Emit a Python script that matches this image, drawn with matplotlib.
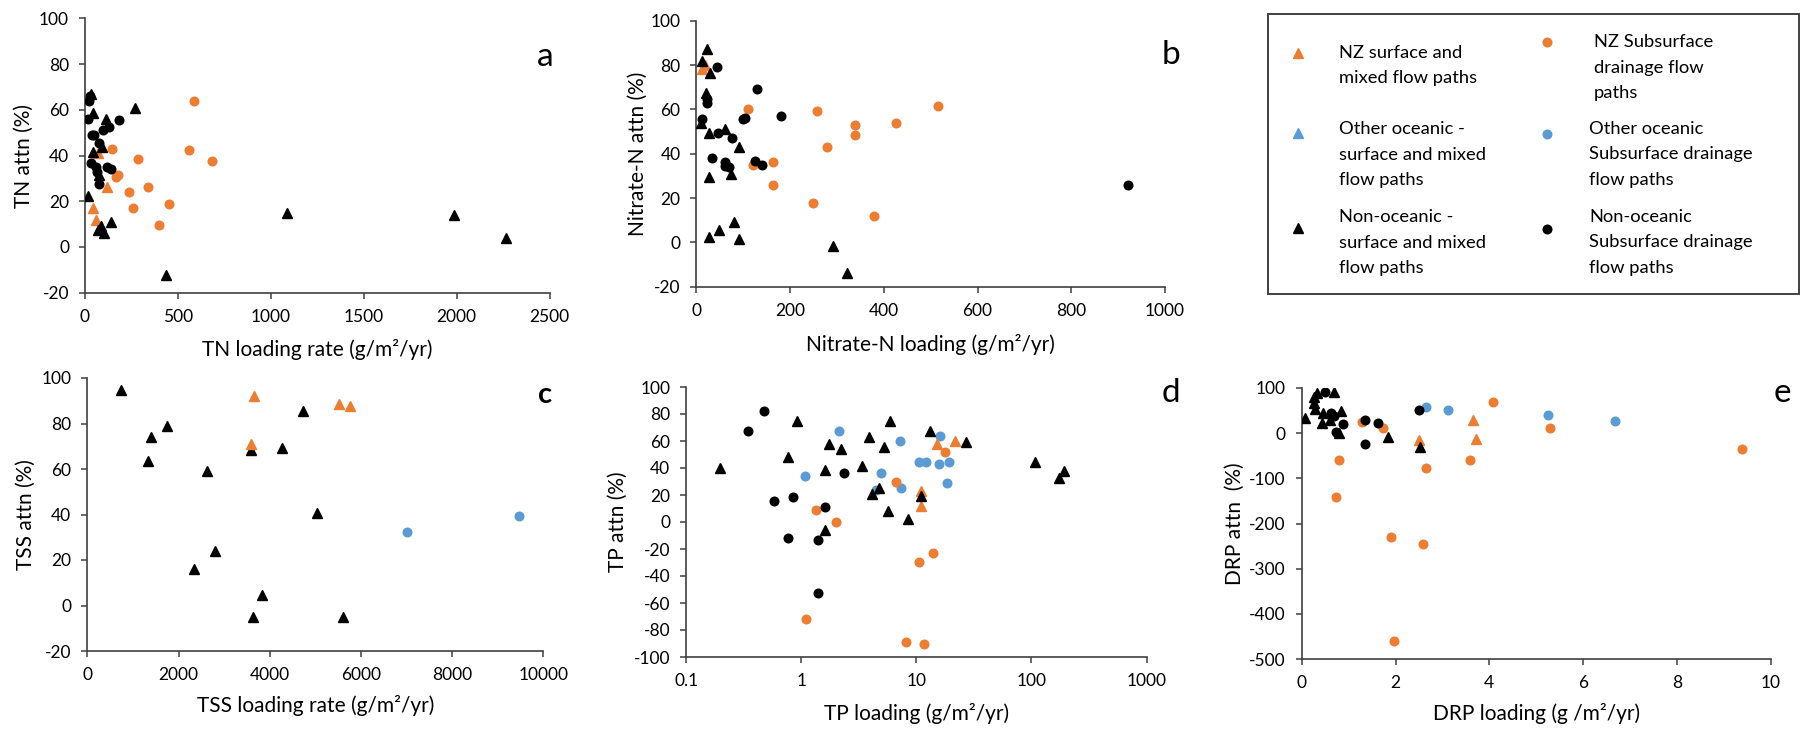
import matplotlib
matplotlib.use("Agg")
import matplotlib.pyplot as plt
from matplotlib.patches import Rectangle

plt.rcParams['font.family'] = ['Lato', 'DejaVu Sans']
plt.rcParams['axes.unicode_minus'] = False

ORANGE = '#ED7D31'
BLUE = '#5B9BD5'
BLACK = '#000000'

# ---------------- Panel a: TN ----------------
a_nz_surf_x = [72, 120, 41, 59]
a_nz_surf_y = [41, 26.1, 16.9, 11.8]
a_nz_sub_x = [147, 287, 168, 175, 235, 341, 260, 454, 398, 585, 560, 682]
a_nz_sub_y = [42.7, 38.3, 30.7, 31.5, 23.9, 26.1, 16.9, 18.9, 9.7, 63.8, 42.4, 37.6]
a_non_surf_x = [31, 41, 113, 269, 93, 41, 18, 138, 86, 72, 102, 1085, 1987, 2267, 435, 77]
a_non_surf_y = [66.8, 58.5, 55.8, 60.9, 43.9, 41.7, 22.4, 11.1, 9.3, 7.4, 6.2, 14.7, 14.0, 4.1, -12.3, 31.5]
a_non_sub_x = [27, 23, 18, 50, 38, 99, 131, 183, 77, 34, 59, 63, 120, 138, 77]
a_non_sub_y = [66.0, 64.0, 55.8, 48.8, 49.0, 51.2, 52.6, 55.4, 45.5, 36.9, 34.8, 32.7, 34.8, 34.0, 27.5]

# ---------------- Panel b: Nitrate-N ----------------
b_nz_surf_x = [13, 18]
b_nz_surf_y = [78, 80]
b_nz_sub_x = [110, 120, 164, 164, 258, 278, 248, 338, 338, 426, 516, 380]
b_nz_sub_y = [60.0, 35.1, 36.4, 25.9, 59.3, 43.2, 17.6, 52.9, 48.4, 53.7, 61.5, 12.0]
b_non_surf_x = [23, 13, 29, 21, 27, 60, 90, 27, 73, 27, 48, 81, 90, 9, 291, 322]
b_non_surf_y = [87.1, 81.8, 76.5, 67.5, 49.5, 51.0, 43.2, 29.6, 30.8, 2.3, 5.6, 9.0, 1.5, 54, -1.7, -13.7]
b_non_sub_x = [43, 22, 22, 13, 47, 77, 100, 104, 130, 181, 33, 60, 61, 70, 124, 141, 922]
b_non_sub_y = [79.0, 63.0, 64.6, 55.5, 49.5, 46.9, 55.5, 56.3, 69.1, 57.0, 37.9, 36.4, 34.5, 34.2, 36.7, 35.1, 25.9]

# ---------------- Panel c: TSS ----------------
c_nz_surf_x = [3649, 3582, 5512, 5763]
c_nz_surf_y = [92.1, 71.1, 88.4, 87.5]
c_oth_sub_x = [7005, 9471]
c_oth_sub_y = [32.5, 39.5]
c_non_surf_x = [730, 1401, 1745, 1325, 2626, 3582, 4279, 4740, 5034, 2349, 2802, 3834, 3624, 5596]
c_non_surf_y = [94.6, 74.0, 79.0, 63.3, 59.1, 68.3, 69.2, 85.5, 40.7, 16.1, 24.0, 4.8, -4.9, -4.9]

# ---------------- Panel d: TP ----------------
d_nz_surf_x = [15.1, 21.8, 10.9, 10.9]
d_nz_surf_y = [58.0, 60.2, 22.7, 12.1]
d_nz_sub_x = [1.35, 2.01, 6.64, 17.8, 10.5, 14.1, 1.11, 8.17, 11.7]
d_nz_sub_y = [8.6, 0.0, 29.4, 51.9, -29.9, -22.7, -71.9, -88.9, -90.1]
d_oth_sub_x = [1.07, 2.14, 4.97, 4.5, 7.16, 7.39, 10.5, 12.2, 15.7, 16.2, 19.1, 18.5]
d_oth_sub_y = [33.8, 67.7, 36.3, 24.0, 60.2, 25.2, 44.4, 44.4, 43.2, 64.0, 44.4, 28.9]
d_non_surf_x = [0.196, 0.914, 0.773, 1.73, 2.20, 1.60, 1.60, 3.85, 3.39, 5.88, 5.27, 4.10,
                4.70, 5.70, 8.42, 10.9, 13.2, 27.2, 108, 193, 175]
d_non_surf_y = [39.8, 75.1, 48.1, 57.8, 54.3, 38.8, -6.2, 62.7, 41.2, 75.1, 55.6, 20.5,
                25.2, 8.4, 2.5, 19.5, 67.7, 59.0, 44.7, 37.5, 32.6]
d_non_sub_x = [0.343, 0.473, 0.577, 0.853, 0.773, 1.39, 1.60, 2.34, 1.39]
d_non_sub_y = [67.7, 82.2, 15.8, 18.3, -11.9, -13.1, 10.9, 36.3, -52.6]

# ---------------- Panel e: DRP ----------------
e_nz_surf_x = [2.49, 3.66, 3.71]
e_nz_surf_y = [-14.8, 29.9, -12.9]
e_nz_sub_x = [1.28, 1.73, 0.79, 2.65, 4.07, 5.29, 9.39, 3.58, 0.73, 1.90, 2.58, 1.96]
e_nz_sub_y = [25.4, 10.6, -59.4, -78.0, 69.0, 12.2, -34.3, -59.4, -141.3, -230.6, -244.6, -459.4]
e_oth_sub_x = [2.65, 3.11, 5.26, 6.67]
e_oth_sub_y = [58.4, 51.1, 41.0, 26.9]
e_non_surf_x = [0.07, 0.27, 0.32, 0.27, 0.28, 0.45, 0.43, 0.60, 0.69, 0.83, 0.79, 1.83, 2.52]
e_non_surf_y = [32.9, 80.8, 89.7, 67.5, 52.8, 44.0, 23.2, 29.1, 91.4, 49.3, 1.1, -7.8, -31.4]
e_non_sub_x = [0.50, 0.62, 0.69, 0.74, 0.87, 1.35, 1.35, 1.62, 2.49]
e_non_sub_y = [90.5, 44.0, 38.1, 3.4, 19.7, 29.1, -24.7, 21.7, 50.3]

legend_labels = [
    "NZ surface and\nmixed flow paths",
    "Other oceanic -\nsurface and mixed\nflow paths",
    "Non-oceanic -\nsurface and mixed\nflow paths",
    "NZ Subsurface\ndrainage flow\npaths",
    "Other oceanic\nSubsurface drainage\nflow paths",
    "Non-oceanic\nSubsurface drainage\nflow paths",
]

W, H = 1802, 732
fig = plt.figure(figsize=(W / 100, H / 100), dpi=100)

TRI_MS = 6.5
CIR_MS = 6.2
SPINE = '#404040'
TICK_FS = 12.5
LABEL_FS = 15


def pix_axes(x0, x1, y0, y1):
    return fig.add_axes([x0 / W, 1 - y1 / H, (x1 - x0) / W, (y1 - y0) / H])


def style(ax):
    for s in ['top', 'right']:
        ax.spines[s].set_visible(False)
    for s in ['left', 'bottom']:
        ax.spines[s].set_color(SPINE)
        ax.spines[s].set_linewidth(1.2)
    ax.tick_params(direction='out', length=4.5, width=1.1, color=SPINE,
                   labelsize=TICK_FS, pad=7)
    ax.tick_params(which='minor', length=0)


def tri(ax, x, y, c):
    ax.plot(x, y, linestyle='none', marker='^', ms=TRI_MS, color=c, mec=c, zorder=3)


def cir(ax, x, y, c):
    ax.plot(x, y, linestyle='none', marker='o', ms=CIR_MS, color=c, mec=c, zorder=3)


def letter(ax, s, x, y, size=24, **kw):
    ax.text(x, y, s, transform=ax.transAxes, ha='center', va='center',
            fontsize=size, clip_on=False, **kw)


# Panel a
ax = pix_axes(85, 549.6, 18.3, 292.7)
style(ax)
cir(ax, a_nz_sub_x, a_nz_sub_y, ORANGE)
tri(ax, a_nz_surf_x, a_nz_surf_y, ORANGE)
tri(ax, a_non_surf_x, a_non_surf_y, BLACK)
cir(ax, a_non_sub_x, a_non_sub_y, BLACK)
ax.set_xlim(0, 2500)
ax.set_ylim(-20, 100)
ax.set_xticks(range(0, 2501, 500))
ax.set_yticks(range(-20, 101, 20))
ax.set_xlabel("TN loading rate (g/m²/yr)", fontsize=LABEL_FS, labelpad=10)
ax.set_ylabel("TN attn (%)", fontsize=LABEL_FS, labelpad=4)
letter(ax, 'a', 0.991, 0.859)

# Panel b
ax = pix_axes(696.4, 1165, 20.7, 286.7)
style(ax)
cir(ax, b_nz_sub_x, b_nz_sub_y, ORANGE)
tri(ax, b_nz_surf_x, b_nz_surf_y, ORANGE)
tri(ax, b_non_surf_x, b_non_surf_y, BLACK)
cir(ax, b_non_sub_x, b_non_sub_y, BLACK)
ax.set_xlim(0, 1000)
ax.set_ylim(-20, 100)
ax.set_xticks(range(0, 1001, 200))
ax.set_yticks(range(-20, 101, 20))
ax.set_xlabel("Nitrate-N loading (g/m²/yr)", fontsize=LABEL_FS, labelpad=11)
ax.set_ylabel("Nitrate-N attn (%)", fontsize=LABEL_FS, labelpad=2)
letter(ax, 'b', 1.013, 0.871)

# Panel c
ax = pix_axes(87.3, 543.4, 378, 651)
style(ax)
tri(ax, c_non_surf_x, c_non_surf_y, BLACK)
tri(ax, c_nz_surf_x, c_nz_surf_y, ORANGE)
cir(ax, c_oth_sub_x, c_oth_sub_y, BLUE)
ax.set_xlim(0, 10000)
ax.set_ylim(-20, 100)
ax.set_xticks(range(0, 10001, 2000))
ax.set_yticks(range(-20, 101, 20))
ax.set_xlabel("TSS loading rate (g/m²/yr)", fontsize=LABEL_FS, labelpad=9)
ax.set_ylabel("TSS attn (%)", fontsize=LABEL_FS, labelpad=4)
letter(ax, 'c', 1.004, 0.938, size=21, fontweight='bold')

# Panel d
ax = pix_axes(686.1, 1146.5, 387, 657)
style(ax)
ax.set_xscale('log')
cir(ax, d_oth_sub_x, d_oth_sub_y, BLUE)
cir(ax, d_nz_sub_x, d_nz_sub_y, ORANGE)
tri(ax, d_nz_surf_x, d_nz_surf_y, ORANGE)
tri(ax, d_non_surf_x, d_non_surf_y, BLACK)
cir(ax, d_non_sub_x, d_non_sub_y, BLACK)
ax.set_xlim(0.1, 1000)
ax.set_ylim(-100, 100)
ax.set_xticks([0.1, 1, 10, 100, 1000])
ax.set_xticklabels(['0.1', '1', '10', '100', '1000'])
ax.set_yticks(range(-100, 101, 20))
ax.set_xlabel("TP loading (g/m²/yr)", fontsize=LABEL_FS, labelpad=10)
ax.set_ylabel("TP attn (%)", fontsize=LABEL_FS, labelpad=4.5)
letter(ax, 'd', 1.054, 0.978)

# Panel e
ax = pix_axes(1301.7, 1770.8, 388, 659)
style(ax)
cir(ax, e_oth_sub_x, e_oth_sub_y, BLUE)
cir(ax, e_nz_sub_x, e_nz_sub_y, ORANGE)
tri(ax, e_nz_surf_x, e_nz_surf_y, ORANGE)
tri(ax, e_non_surf_x, e_non_surf_y, BLACK)
cir(ax, e_non_sub_x, e_non_sub_y, BLACK)
ax.set_xlim(0, 10)
ax.set_ylim(-500, 100)
ax.set_xticks(range(0, 11, 2))
ax.set_yticks(range(-500, 101, 100))
ax.set_xlabel("DRP loading (g /m²/yr)", fontsize=LABEL_FS, labelpad=9)
ax.set_ylabel("DRP attn  (%)", fontsize=LABEL_FS, labelpad=3)
letter(ax, 'e', 1.024, 0.98)

# Legend (drawn in figure pixel space)
lax = fig.add_axes([0, 0, 1, 1], zorder=-1)
lax.set_xlim(0, W)
lax.set_ylim(H, 0)
lax.axis('off')
lax.add_patch(Rectangle((1268, 14), 531, 280, fill=False, edgecolor=SPINE, lw=1.4))
leg_markers = ['^', '^', '^', 'o', 'o', 'o']
leg_colors = [ORANGE, BLUE, BLACK, ORANGE, BLUE, BLACK]
leg_mx = [1298, 1298, 1298, 1547, 1547, 1547]
leg_my = [53, 133, 228, 42, 134, 229]
leg_tx = [1339, 1339, 1339, 1594, 1589, 1589]
leg_ty = [53, 129, 217, 42, 129, 217]
for lab, m, c, mx, my, tx, ty in zip(legend_labels, leg_markers, leg_colors,
                                     leg_mx, leg_my, leg_tx, leg_ty):
    lax.plot([mx], [my], marker=m, linestyle='none', color=c,
             ms=TRI_MS if m == '^' else CIR_MS)
    for i, line in enumerate(lab.split('\n')):
        lax.text(tx, ty + i * 25.5, line, fontsize=13.2, ha='left', va='center')

fig.savefig('out.png', dpi=100)
